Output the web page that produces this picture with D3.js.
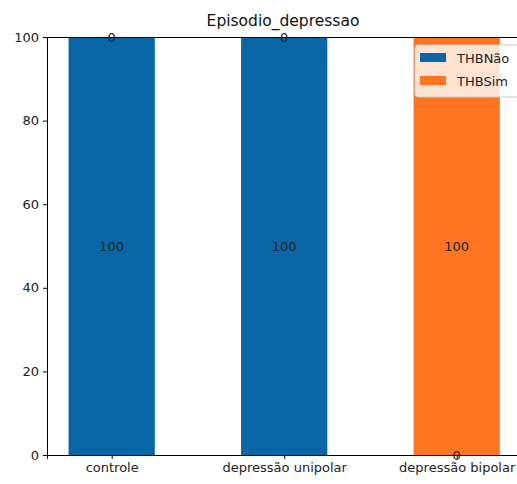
<!DOCTYPE html>
<html><head><meta charset="utf-8">
<script src="https://cdn.jsdelivr.net/npm/d3@7"></script>
<style>body{margin:0;background:#fff;} svg{display:block;font-family:"DejaVu Sans",sans-serif;}</style>
</head><body>
<svg id="c" width="517" height="484"></svg>
<script>
const categories = ["controle", "depressão unipolar", "depressão bipolar"];
const seriesNames = ["THBNão", "THBSim"];
const thbNao = [100, 100, 0];
const thbSim = [0, 0, 100];
const yTicks = [0, 20, 40, 60, 80, 100];
const colors = ["#0a67a7", "#fd7421"];
const title = "Episodio_depressao";

(function () {
const svg = d3.select("#c");
const mLeft = 47, mTop = 37, mBottom = 455;
const unit = 172.5;
const x = d3.scaleLinear().domain([-0.375, 2.375]).range([mLeft, mLeft + 2.75 * unit]);
const y = d3.scaleLinear().domain([0, 100]).range([mBottom, mTop]);
const bw = 0.5;

const data = categories.map((c, i) => ({c, i}));
const series = [thbNao, thbSim];

series.forEach((s, k) => {
  svg.append("g").selectAll("rect").data(data).join("rect")
    .attr("x", d => x(d.i - bw / 2))
    .attr("width", d => x(d.i + bw / 2) - x(d.i - bw / 2))
    .attr("y", d => { const base = k === 0 ? 0 : thbNao[d.i]; return y(base + s[d.i]); })
    .attr("height", d => y(0) - y(s[d.i]))
    .attr("fill", colors[k]);
});

// top and right spine
svg.append("line").attr("x1", mLeft).attr("x2", x(2.375)).attr("y1", mTop + 0.5).attr("y2", mTop + 0.5).attr("stroke", "#000");
svg.append("line").attr("x1", x(2.375)).attr("x2", x(2.375)).attr("y1", mTop).attr("y2", mBottom).attr("stroke", "#000");

// axes
const yAxis = d3.axisLeft(y).tickValues(yTicks).tickSize(4).tickPadding(4);
const gy = svg.append("g").attr("transform", `translate(${mLeft},0)`).call(yAxis);
gy.select(".domain").attr("stroke", "#000");
gy.selectAll("text").attr("font-size", 13).attr("fill", "#222").attr("font-family", "DejaVu Sans");

const xAxis = d3.axisBottom(x).tickValues([0, 1, 2]).tickFormat(i => categories[i]).tickSize(4).tickPadding(4);
const gx = svg.append("g").attr("transform", `translate(0,${mBottom})`).call(xAxis);
gx.select(".domain").attr("stroke", "#000");
gx.selectAll("text").attr("font-size", 13).attr("fill", "#222").attr("font-family", "DejaVu Sans");

// labels
series.forEach((s, k) => {
  svg.append("g").selectAll("text").data(data).join("text")
    .attr("x", d => x(d.i))
    .attr("y", d => { const base = k === 0 ? 0 : thbNao[d.i]; return y(base + s[d.i] / 2); })
    .attr("dy", "0.35em")
    .attr("text-anchor", "middle")
    .attr("font-size", 13)
    .attr("fill", "#222")
    .text(d => s[d.i]);
});

// title
svg.append("text").attr("x", 283).attr("y", 26).attr("text-anchor", "middle")
  .attr("font-size", 15.5).attr("fill", "#111").text(title);

// legend
const lg = svg.append("g").attr("transform", "translate(415,45)");
lg.append("rect").attr("width", 110).attr("height", 52).attr("rx", 3)
  .attr("fill", "rgba(255,255,255,0.8)").attr("stroke", "#ccc");
seriesNames.forEach((n, k) => {
  lg.append("rect").attr("x", 5).attr("y", 8 + k * 23).attr("width", 26).attr("height", 9).attr("fill", colors[k]);
  lg.append("text").attr("x", 42).attr("y", 13 + k * 23).attr("dy", "0.35em")
    .attr("font-size", 13).attr("fill", "#222").text(n);
});
})();
</script>
</body></html>
